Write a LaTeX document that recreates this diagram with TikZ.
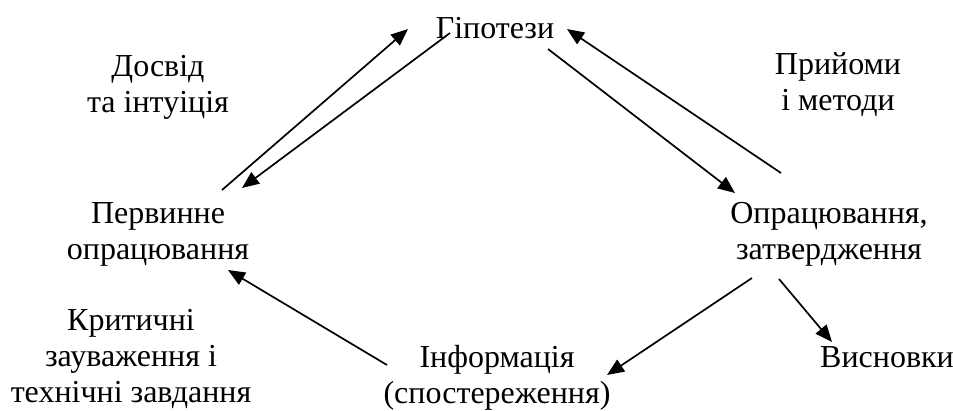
\documentclass[tikz,border=0pt]{standalone}
\usepackage{fontspec}
\setmainfont{Liberation Serif}
\usetikzlibrary{arrows.meta}
\begin{document}
\begin{tikzpicture}[x=1pt,y=-1pt,
  lbl/.style={font=\fontsize{32}{36}\selectfont, align=center, inner sep=0pt, anchor=base},
  link/.style={line width=1.7pt, -{Triangle[length=17pt,width=14pt]}}]
\useasboundingbox (0,0) rectangle (953,410);
% labels (placed by the baseline of their last line)
\node[lbl] (hyp)   at (495,38)  {Гіпотези};
\node[lbl] (exp)   at (158,112) {Досвід\\та інтуіція};
\node[lbl] (meth)  at (838,110) {Прийоми\\і методи};
\node[lbl] (prim)  at (158,259) {Первинне\\опрацювання};
\node[lbl] (proc)  at (829,259) {Опрацювання,\\затвердження};
\node[lbl] (crit)  at (131,402) {Критичні\\зауваження і\\технічні завдання};
\node[lbl] (info)  at (497,403) {Інформація\\(спостереження)};
\node[lbl] (concl) at (887,367) {Висновки};
% cycle of arrows
\draw[link] ([shift={(64,-69)}]prim.base) -- ([shift={(-87,-9)}]hyp.base);
\draw[link] ([shift={(-45,-5)}]hyp.base) -- ([shift={(84,-71)}]prim.base);
\draw[link] ([shift={(53,11)}]hyp.base) -- ([shift={(-94,-66)}]proc.base);
\draw[link] ([shift={(-48,-86)}]proc.base) -- ([shift={(72,-9)}]hyp.base);
\draw[link] ([shift={(-77,19)}]proc.base) -- ([shift={(110,-28)}]info.base);
\draw[link] ([shift={(-50,20)}]proc.base) -- ([shift={(-55,-25)}]concl.base);
\draw[link] ([shift={(-110,-38)}]info.base) -- ([shift={(70,11)}]prim.base);
\end{tikzpicture}
\end{document}
